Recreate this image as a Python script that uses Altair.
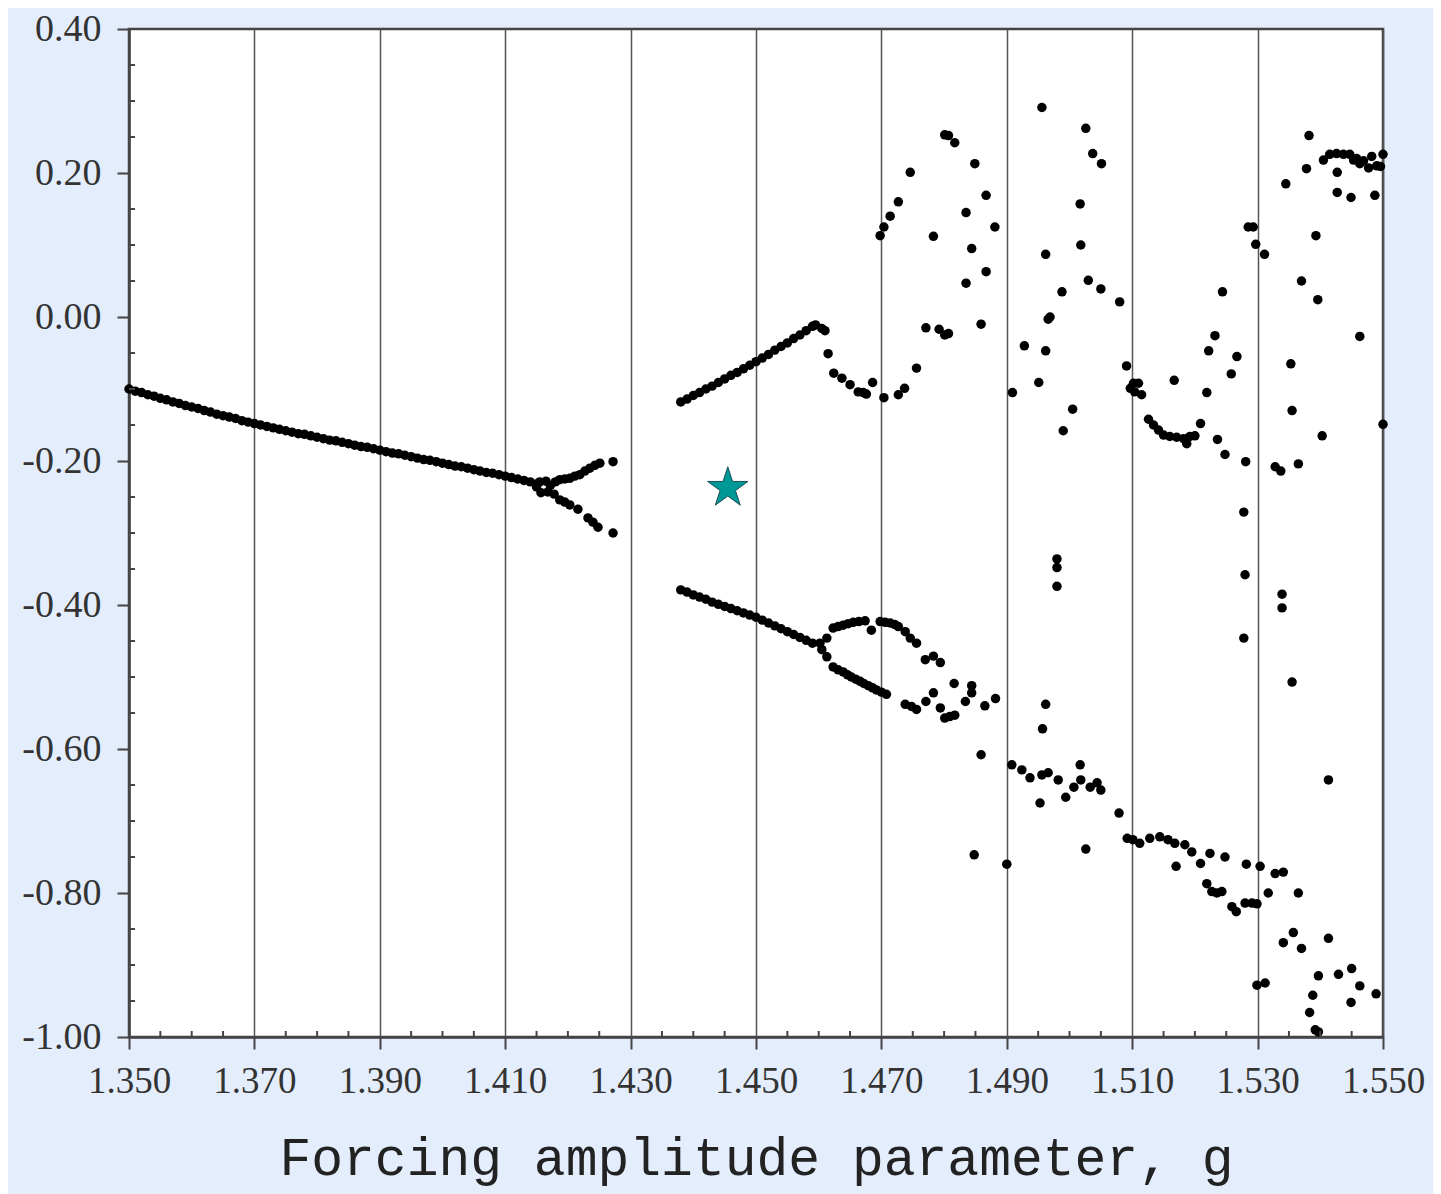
import altair as alt
import pandas as pd

# ---------------- data (g = forcing amplitude, x = response) ----------------
main_branch = [
    (1.350, -0.100), (1.351, -0.103), (1.352, -0.105), (1.353, -0.108), (1.354, -0.110),
    (1.355, -0.113), (1.356, -0.115), (1.357, -0.118), (1.358, -0.120), (1.359, -0.123),
    (1.360, -0.125), (1.361, -0.127), (1.362, -0.130), (1.363, -0.132), (1.364, -0.135),
    (1.365, -0.137), (1.366, -0.139), (1.367, -0.141), (1.368, -0.144), (1.369, -0.146),
    (1.370, -0.148), (1.371, -0.150), (1.372, -0.152), (1.373, -0.154), (1.374, -0.156),
    (1.375, -0.158), (1.376, -0.160), (1.377, -0.162), (1.378, -0.163), (1.379, -0.165),
    (1.380, -0.167), (1.381, -0.169), (1.382, -0.171), (1.383, -0.172), (1.384, -0.174),
    (1.385, -0.176), (1.386, -0.178), (1.387, -0.180), (1.388, -0.181), (1.389, -0.183),
    (1.390, -0.185), (1.391, -0.187), (1.392, -0.189), (1.393, -0.190), (1.394, -0.192),
    (1.395, -0.194), (1.396, -0.196), (1.397, -0.198), (1.398, -0.199), (1.399, -0.201),
    (1.400, -0.203), (1.401, -0.205), (1.402, -0.207), (1.403, -0.208), (1.404, -0.210),
    (1.405, -0.212), (1.406, -0.214), (1.407, -0.216), (1.408, -0.217), (1.409, -0.219),
    (1.410, -0.221), (1.411, -0.223), (1.412, -0.225), (1.413, -0.227), (1.414, -0.229),
    (1.415, -0.232),
]
knot_1 = [
    (1.4150, -0.236), (1.4155, -0.229), (1.4165, -0.228), (1.4172, -0.234),
    (1.4168, -0.243), (1.4157, -0.244),
]
fork_upper = [
    (1.4180, -0.229), (1.4187, -0.226), (1.4195, -0.225), (1.4203, -0.224), (1.4211, -0.221),
    (1.4219, -0.219), (1.4227, -0.214), (1.4235, -0.210), (1.4243, -0.206), (1.4251, -0.203),
    (1.4272, -0.201),
]
fork_lower = [
    (1.4178, -0.246), (1.4187, -0.254), (1.4195, -0.257), (1.4203, -0.261), (1.4216, -0.267),
    (1.4232, -0.279), (1.4240, -0.285), (1.4248, -0.292), (1.4272, -0.300),
]
upper_line = [
    (1.4380, -0.118), (1.4390, -0.114), (1.4400, -0.109), (1.4410, -0.105), (1.4420, -0.100),
    (1.4430, -0.096), (1.4440, -0.091), (1.4450, -0.086), (1.4460, -0.081), (1.4470, -0.077),
    (1.4480, -0.072), (1.4490, -0.067), (1.4500, -0.062), (1.4510, -0.057), (1.4520, -0.052),
    (1.4530, -0.046), (1.4540, -0.041), (1.4550, -0.036), (1.4560, -0.030), (1.4570, -0.025),
    (1.4580, -0.019), (1.4590, -0.013), (1.4595, -0.011), (1.4605, -0.016), (1.4610, -0.019),
]
lower_line = [
    (1.438, -0.379), (1.439, -0.382), (1.440, -0.386), (1.441, -0.389), (1.442, -0.392),
    (1.443, -0.396), (1.444, -0.399), (1.445, -0.402), (1.446, -0.405), (1.447, -0.408),
    (1.448, -0.411), (1.449, -0.414), (1.450, -0.417), (1.451, -0.421), (1.452, -0.425),
    (1.453, -0.429), (1.454, -0.433), (1.455, -0.437), (1.456, -0.441), (1.457, -0.445),
    (1.458, -0.449), (1.459, -0.453), (1.4602, -0.453),
]
loop_upper = [
    (1.4613, -0.446), (1.4623, -0.432), (1.4631, -0.430), (1.4639, -0.428), (1.4647, -0.426),
    (1.4655, -0.424), (1.4664, -0.423), (1.4674, -0.422), (1.4684, -0.435), (1.4698, -0.423),
    (1.4706, -0.424), (1.4714, -0.425), (1.4721, -0.427), (1.4727, -0.430), (1.4738, -0.437),
    (1.4746, -0.446), (1.4756, -0.453), (1.4770, -0.476), (1.4783, -0.471), (1.4794, -0.480),
]
loop_lower = [
    (1.4605, -0.462), (1.4613, -0.472), (1.4623, -0.486), (1.4631, -0.490), (1.4639, -0.493),
    (1.4646, -0.497), (1.4652, -0.500), (1.4659, -0.503), (1.4666, -0.506), (1.4672, -0.509),
    (1.4679, -0.512), (1.4686, -0.515), (1.4692, -0.518), (1.4700, -0.521), (1.4708, -0.524),
]
scatter_upper = [
    (1.4615, -0.051), (1.4624, -0.078), (1.4637, -0.085), (1.4650, -0.094), (1.4663, -0.104),
    (1.4671, -0.105), (1.4676, -0.107), (1.4686, -0.091), (1.4704, -0.112), (1.4727, -0.108),
    (1.4737, -0.099), (1.4756, -0.071), (1.4771, -0.015), (1.4792, -0.017), (1.4801, -0.025),
    (1.4807, -0.023), (1.4859, -0.010),
    (1.4698, 0.113), (1.4704, 0.125), (1.4714, 0.140), (1.4727, 0.160), (1.4746, 0.201),
    (1.4783, 0.112), (1.4801, 0.253), (1.4807, 0.252), (1.4817, 0.242), (1.4849, 0.213),
    (1.4867, 0.169), (1.4835, 0.145), (1.4881, 0.125), (1.4844, 0.095), (1.4867, 0.063),
    (1.4835, 0.047),
    (1.4956, 0.291), (1.5026, 0.262), (1.5037, 0.227), (1.5051, 0.213), (1.5017, 0.157),
    (1.5018, 0.100), (1.4962, 0.087), (1.5030, 0.051), (1.5050, 0.039), (1.5080, 0.021),
    (1.4988, 0.035), (1.4969, 0.000), (1.4966, -0.003), (1.4928, -0.040), (1.4962, -0.047),
    (1.4951, -0.091), (1.4909, -0.105), (1.5005, -0.128), (1.4990, -0.158), (1.5091, -0.068),
    (1.5382, 0.252), (1.5378, 0.206), (1.5345, 0.185), (1.5405, 0.218), (1.5415, 0.226),
    (1.5426, 0.227), (1.5437, 0.226), (1.5447, 0.226), (1.5458, 0.220), (1.5469, 0.217),
    (1.5482, 0.223), (1.5477, 0.207), (1.5490, 0.210), (1.5500, 0.226), (1.5496, 0.209),
    (1.5453, 0.218), (1.5463, 0.213), (1.5427, 0.201), (1.5427, 0.173), (1.5449, 0.166),
    (1.5487, 0.169),
    (1.5285, 0.125), (1.5293, 0.125), (1.5297, 0.101), (1.5311, 0.087), (1.5393, 0.113),
    (1.5370, 0.050), (1.5396, 0.024), (1.5463, -0.027), (1.5353, -0.065), (1.5355, -0.130),
    (1.5403, -0.165), (1.5500, -0.149), (1.5328, -0.208), (1.5337, -0.214), (1.5365, -0.204),
    (1.5244, 0.035), (1.5232, -0.026), (1.5222, -0.047), (1.5267, -0.055), (1.5258, -0.079),
    (1.5102, -0.092), (1.5110, -0.092), (1.5097, -0.099), (1.5104, -0.104), (1.5115, -0.108),
    (1.5167, -0.088), (1.5219, -0.105), (1.5209, -0.148), (1.5126, -0.142), (1.5134, -0.150),
    (1.5142, -0.157), (1.5150, -0.164), (1.5160, -0.166), (1.5171, -0.167), (1.5182, -0.169),
    (1.5192, -0.166), (1.5200, -0.165), (1.5187, -0.176), (1.5236, -0.170), (1.5248, -0.191),
    (1.5281, -0.201),
]
scatter_lower = [
    (1.4738, -0.538), (1.4748, -0.541), (1.4756, -0.545), (1.4771, -0.534), (1.4783, -0.522),
    (1.4794, -0.543), (1.4801, -0.557), (1.4809, -0.555), (1.4817, -0.553), (1.4816, -0.509),
    (1.4844, -0.512), (1.4844, -0.522), (1.4834, -0.534), (1.4865, -0.540), (1.4882, -0.530),
    (1.4859, -0.608), (1.4980, -0.336), (1.4980, -0.348), (1.4980, -0.374), (1.4962, -0.538),
    (1.4957, -0.572), (1.4848, -0.747), (1.4900, -0.760),
    (1.4908, -0.622), (1.4924, -0.629), (1.4937, -0.640), (1.4953, -0.675), (1.4956, -0.636),
    (1.4966, -0.633), (1.4982, -0.643), (1.4994, -0.667), (1.5007, -0.653), (1.5017, -0.622),
    (1.5018, -0.643), (1.5026, -0.739), (1.5033, -0.653), (1.5044, -0.647), (1.5050, -0.657),
    (1.5079, -0.689), (1.5092, -0.724), (1.5101, -0.726), (1.5112, -0.731), (1.5128, -0.724),
    (1.5144, -0.722), (1.5157, -0.726), (1.5168, -0.731), (1.5170, -0.763), (1.5184, -0.733),
    (1.5195, -0.743), (1.5209, -0.759), (1.5224, -0.745), (1.5248, -0.750), (1.5219, -0.787),
    (1.5227, -0.798), (1.5235, -0.800), (1.5243, -0.798), (1.5259, -0.819), (1.5266, -0.826),
    (1.5280, -0.814), (1.5291, -0.814), (1.5299, -0.815), (1.5282, -0.760), (1.5304, -0.763),
    (1.5328, -0.773), (1.5341, -0.771), (1.5317, -0.800), (1.5365, -0.800), (1.5299, -0.928),
    (1.5312, -0.925), (1.5413, -0.643), (1.5341, -0.869), (1.5357, -0.855), (1.5370, -0.877),
    (1.5413, -0.863), (1.5397, -0.915), (1.5429, -0.913), (1.5450, -0.905), (1.5463, -0.929),
    (1.5449, -0.952), (1.5489, -0.940), (1.5388, -0.942), (1.5383, -0.966), (1.5392, -0.990),
    (1.5397, -0.993),
    (1.5278, -0.271), (1.5280, -0.358), (1.5278, -0.446), (1.5339, -0.385), (1.5339, -0.404),
    (1.5355, -0.507),
]
star_point = [(1.4455, -0.2375)]

x_ticks = [1.350, 1.370, 1.390, 1.410, 1.430, 1.450, 1.470, 1.490, 1.510, 1.530, 1.550]
y_ticks = [-1.00, -0.80, -0.60, -0.40, -0.20, 0.00, 0.20, 0.40]
x_minor = [round(t + k * 0.005, 4) for t in x_ticks[:-1] for k in (1, 2, 3)]
y_minor = [round(t + k * 0.05, 3) for t in y_ticks[:-1] for k in (1, 2, 3)]

x_title = "Forcing amplitude parameter, g"

# ---------------- build tables ----------------
groups = [main_branch, knot_1, fork_upper, fork_lower, upper_line, lower_line,
          loop_upper, loop_lower, scatter_upper, scatter_lower]
df = pd.DataFrame([{"g": g, "x": x} for grp in groups for g, x in grp])
df_star = pd.DataFrame([{"g": g, "x": x} for g, x in star_point])
df_xminor = pd.DataFrame({"g": x_minor})
df_yminor = pd.DataFrame({"x": y_minor})

W, H = 1254, 1008
xscale = alt.Scale(domain=[1.35, 1.55], nice=False, zero=False)
yscale = alt.Scale(domain=[-1.0, 0.4], nice=False, zero=False)

LABEL_FONT = "Liberation Serif"
AX = "#444444"
HYPHEN_X = "datum.value < 0 ? '-' + format(-datum.value, '.3f') : format(datum.value, '.3f')"
HYPHEN_Y = "datum.value < 0 ? '-' + format(-datum.value, '.2f') : format(datum.value, '.2f')"

x_axis = alt.Axis(
    orient="bottom", values=x_ticks, labelExpr=HYPHEN_X, grid=True, gridColor="#555555",
    gridWidth=1.5, gridOpacity=1, tickSize=12, tickColor=AX, tickWidth=2,
    domainColor=AX, domainWidth=2.5, labelFont=LABEL_FONT, labelFontSize=37,
    labelColor="#333333", labelPadding=14, labelFlush=False, labelOverlap=False,
    title=x_title, titleFont="Liberation Mono", titleFontSize=53,
    titleFontWeight="normal", titleColor="#222222", titleY=137,
    titleBaseline="alphabetic")
y_axis = alt.Axis(
    orient="left", values=y_ticks, labelExpr=HYPHEN_Y, grid=False, tickSize=12,
    tickColor=AX, tickWidth=2, domainColor=AX, domainWidth=2.5,
    labelFont=LABEL_FONT, labelFontSize=38, labelColor="#333333",
    labelPadding=16, labelFlush=False, labelOverlap=False, title=None)

points = alt.Chart(df).mark_circle(size=90, color="black", opacity=1).encode(
    x=alt.X("g:Q", scale=xscale, axis=x_axis),
    y=alt.Y("x:Q", scale=yscale, axis=y_axis),
)

# minor tick marks drawn inside the frame (positions through the shared scales)
x_minor_ticks = alt.Chart(df_xminor).mark_rule(color=AX, strokeWidth=2).encode(
    x=alt.X("g:Q", scale=xscale, axis=x_axis),
    y=alt.value(H - 6), y2=alt.value(H),
)
y_minor_ticks = alt.Chart(df_yminor).mark_rule(color=AX, strokeWidth=2).encode(
    y=alt.Y("x:Q", scale=yscale, axis=y_axis),
    x=alt.value(0), x2=alt.value(6),
)

STAR = ("M0,-1L0.2245,-0.309L0.951,-0.309L0.363,0.118L0.588,0.809L0,0.382"
        "L-0.588,0.809L-0.363,0.118L-0.951,-0.309L-0.2245,-0.309Z")
star = alt.Chart(df_star).mark_point(
    shape=STAR, size=1800, filled=True, fill="#009797", stroke="#1d4f55",
    strokeWidth=1, opacity=1).encode(
    x=alt.X("g:Q", scale=xscale, axis=x_axis), y=alt.Y("x:Q", scale=yscale, axis=y_axis))

chart = alt.layer(points, x_minor_ticks, y_minor_ticks, star).properties(
    width=W, height=H,
    autosize=alt.AutoSizeParams(type="none"),
    padding={"left": 121, "top": 21, "right": 50, "bottom": 157},
    background="#e3edfb",
).configure_view(stroke="#444444", strokeWidth=2.5, fill="white")

chart.save("out.html", embed_options={"renderer": "svg", "actions": False})
